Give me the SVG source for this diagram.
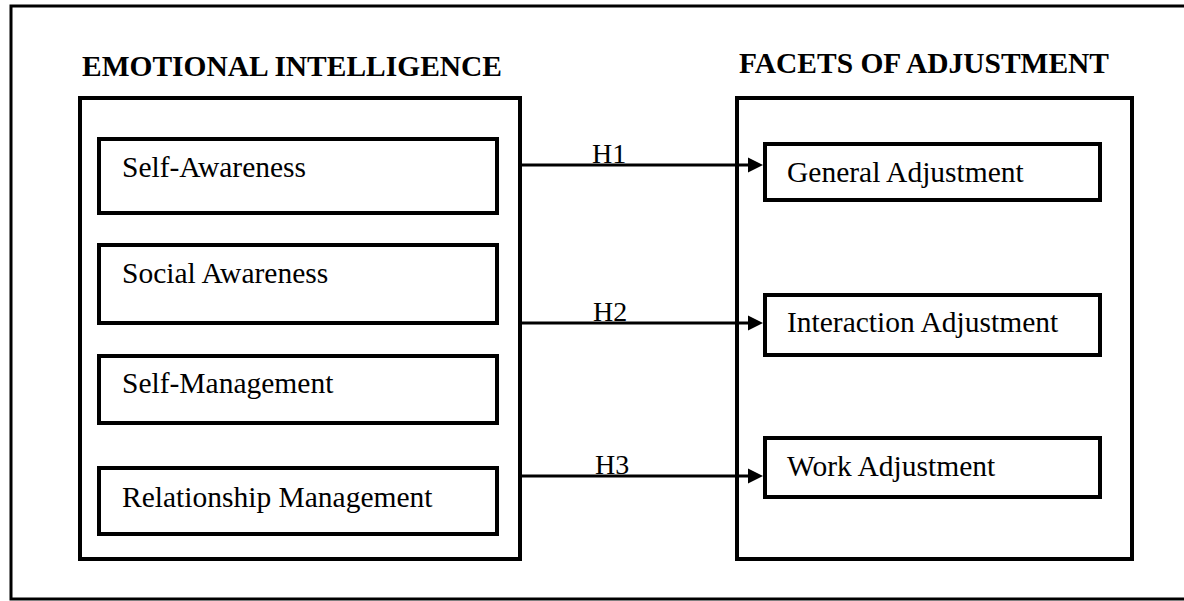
<svg xmlns="http://www.w3.org/2000/svg" width="1184" height="601" viewBox="0 0 1184 601">
  <style>
    .frame { fill: none; stroke: #000; stroke-width: 3; }
    .box { fill: #fff; stroke: #000; stroke-width: 4; }
    .title { font-family: "Liberation Serif", "Times New Roman", serif; font-size: 29.5px; font-weight: bold; fill: #000; }
    .label { font-family: "Liberation Serif", "Times New Roman", serif; font-size: 29.5px; fill: #000; }
    .hlabel { font-family: "Liberation Serif", "Times New Roman", serif; font-size: 28px; fill: #000; }
    .conn { stroke: #000; stroke-width: 3; fill: none; }
  </style>
  <defs>
    <marker id="arrow" markerUnits="userSpaceOnUse" markerWidth="15" markerHeight="16" refX="0" refY="8" orient="auto">
      <path d="M0,0.5 L15,8 L0,15.5 z" fill="#000"/>
    </marker>
  </defs>
  <rect x="0" y="0" width="1184" height="601" fill="#fff"/>
  <rect class="frame" x="11" y="6" width="1185" height="593"/>

  <g id="emotional-intelligence">
    <text class="title" x="82" y="76" textLength="420" lengthAdjust="spacingAndGlyphs">EMOTIONAL INTELLIGENCE</text>
    <rect class="box" x="80" y="98" width="440" height="461"/>
  </g>
  <g id="self-awareness">
    <rect class="box" x="99" y="139" width="398" height="74"/>
    <text class="label" x="122" y="177">Self-Awareness</text>
  </g>
  <g id="social-awareness">
    <rect class="box" x="99" y="245" width="398" height="78"/>
    <text class="label" x="122" y="283">Social Awareness</text>
  </g>
  <g id="self-management">
    <rect class="box" x="99" y="356" width="398" height="67"/>
    <text class="label" x="122" y="393">Self-Management</text>
  </g>
  <g id="relationship-management">
    <rect class="box" x="99" y="468" width="398" height="66"/>
    <text class="label" x="122" y="507">Relationship Management</text>
  </g>

  <g id="facets-of-adjustment">
    <text class="title" x="739" y="73" textLength="370" lengthAdjust="spacingAndGlyphs">FACETS OF ADJUSTMENT</text>
    <rect class="box" x="737" y="98" width="395" height="461"/>
  </g>
  <g id="general-adjustment">
    <rect class="box" x="765" y="144" width="335" height="56"/>
    <text class="label" x="787" y="182">General Adjustment</text>
  </g>
  <g id="interaction-adjustment">
    <rect class="box" x="765" y="295" width="335" height="60"/>
    <text class="label" x="787" y="332">Interaction Adjustment</text>
  </g>
  <g id="work-adjustment">
    <rect class="box" x="765" y="438" width="335" height="59"/>
    <text class="label" x="787" y="476">Work Adjustment</text>
  </g>

  <g id="connectors">
    <line class="conn" x1="520" y1="165" x2="748" y2="165" marker-end="url(#arrow)"/>
    <text class="hlabel" x="592" y="163">H1</text>
    <line class="conn" x1="520" y1="323" x2="748" y2="323" marker-end="url(#arrow)"/>
    <text class="hlabel" x="593" y="321">H2</text>
    <line class="conn" x1="520" y1="476" x2="748" y2="476" marker-end="url(#arrow)"/>
    <text class="hlabel" x="595" y="474">H3</text>
  </g>
</svg>
